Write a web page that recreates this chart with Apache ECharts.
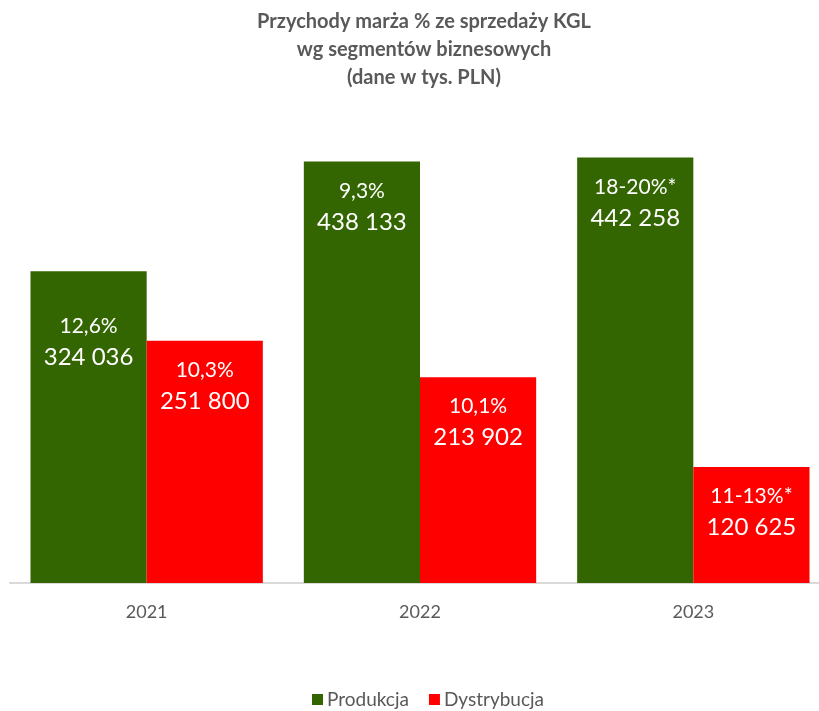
<!DOCTYPE html>
<html>
<head>
<meta charset="utf-8">
<script src="https://cdn.jsdelivr.net/npm/echarts@6/dist/echarts.min.js"></script>
<style>
  html, body { margin: 0; padding: 0; background: #fff; overflow: hidden; }
  #chart { width: 830px; height: 711px; }
</style>
</head>
<body>
<div id="chart"></div>
<script>
var years = ['2021', '2022', '2023']
var produkcja = [324036, 438133, 442258]
var dystrybucja = [251800, 213902, 120625]
var marzaProdukcja = ['12,6%', '9,3%', '18-20%*']
var marzaDystrybucja = ['10,3%', '10,1%', '11-13%*']

var font = 'Lato, "Open Sans", sans-serif'

function fmt(v){
    return String(v).replace(/\B(?=(\d{3})+(?!\d))/g, ' ')
}

function makeData(values, marza){
    return values.map(function(v, i){
        var item = { value: v, marza: marza[i] }
        // first green bar label sits lower in the original
        if (marza === marzaProdukcja && i === 0) {
            item.label = { offset: [0, 26] }
        }
        return item
    })
}

var labelStyle = {
    show: true,
    position: 'insideTop',
    distance: 14,
    formatter: function(p){
        return '{p|' + p.data.marza + '}\n{v|' + fmt(p.value) + '}'
    },
    rich: {
        p: { color: '#fff', fontSize: 21, fontFamily: font, lineHeight: 31 },
        v: { color: '#fff', fontSize: 24, fontFamily: font, lineHeight: 31 }
    }
}

var chart = echarts.init(document.getElementById('chart'))

var option = {
    animation: false,
    title: {
        text: 'Przychody marża % ze sprzedaży KGL\nwg segmentów biznesowych\n(dane w tys. PLN)',
        left: 419,
        textAlign: 'center',
        top: 3,
        textStyle: {
            color: '#595959',
            fontSize: 20,
            fontWeight: 'bold',
            fontFamily: font,
            lineHeight: 28
        }
    },
    legend: {
        top: 690,
        left: 312,
        padding: 0,
        itemWidth: 11,
        itemHeight: 11,
        itemGap: 20,
        icon: 'rect',
        textStyle: { color: '#595959', fontSize: 19, fontFamily: font, padding: [0, 0, 0, -1] }
    },
    grid: {
        left: 10,
        right: 0,
        top: 150,
        bottom: 128
    },
    xAxis: {
        type: 'category',
        data: years,
        axisLine: { lineStyle: { color: '#d9d9d9', width: 2 } },
        axisTick: { show: false },
        axisLabel: { color: '#595959', fontSize: 18, fontFamily: font, margin: 20 }
    },
    yAxis: {
        type: 'value',
        min: 0,
        max: 450000,
        show: false,
        splitLine: { show: false }
    },
    series: [
        {
            name: 'Produkcja',
            type: 'bar',
            data: makeData(produkcja, marzaProdukcja),
            itemStyle: { color: '#336600' },
            barGap: '0%',
            barCategoryGap: '15%',
            label: labelStyle
        },
        {
            name: 'Dystrybucja',
            type: 'bar',
            data: makeData(dystrybucja, marzaDystrybucja),
            itemStyle: { color: '#ff0000' },
            label: labelStyle
        }
    ]
}

chart.setOption(option)
</script>
</body>
</html>
